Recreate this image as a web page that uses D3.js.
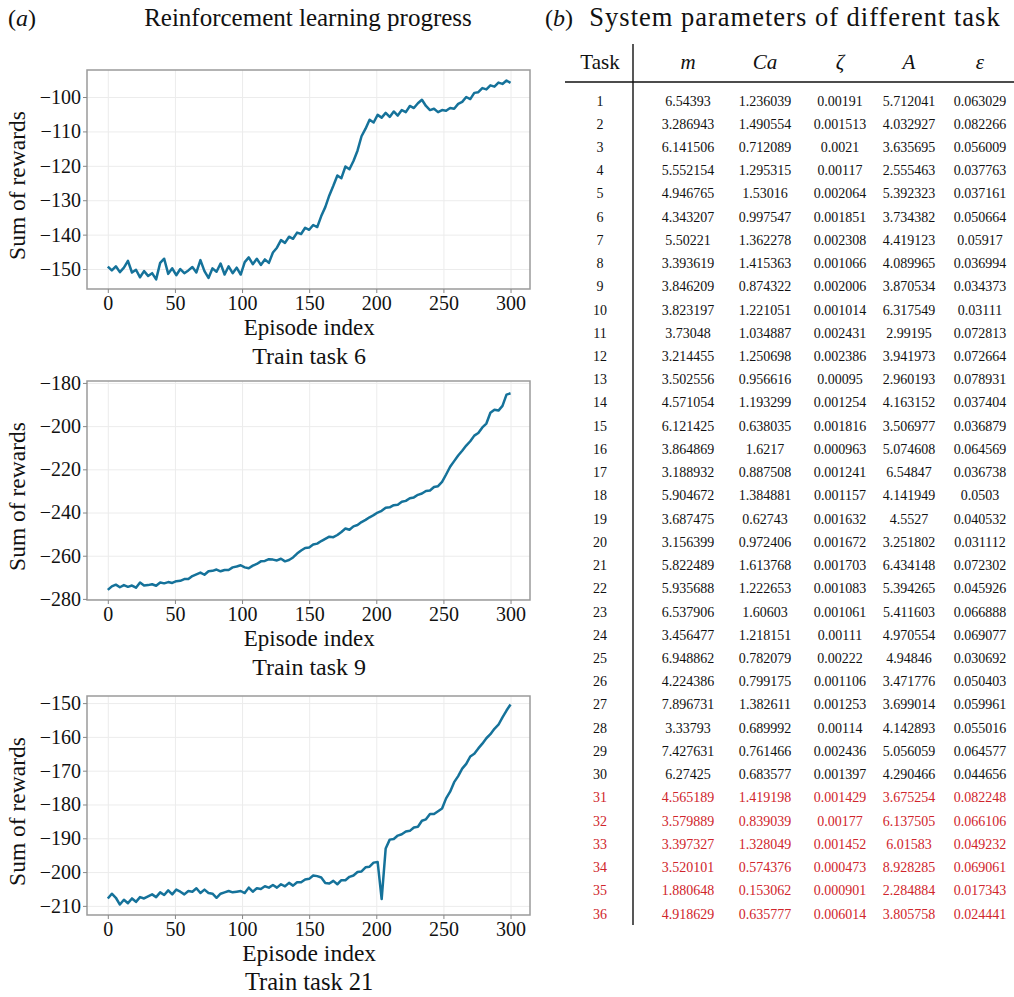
<!DOCTYPE html>
<html>
<head>
<meta charset="utf-8">
<script src="https://cdn.jsdelivr.net/npm/d3@7"></script>
<style>
  body { margin: 0; background: #fff; }
  svg text { font-family: "Liberation Serif", "Times New Roman", serif; fill: #111; }
  .grid line { stroke: #ececec; stroke-width: 1; }
  .grid path { display: none; }
  .axis path { display: none; }
  .axis line { stroke: #888; }
</style>
</head>
<body>
<div id="chart"></div>
<script>
// Episode index (sampled every 3 episodes)
var episodes = d3.range(0, 301, 3);
var xTicks = [0, 50, 100, 150, 200, 250, 300];

// Sum of rewards, train task 6
var rewardsTask6 = [
  -149.3, -150.4, -149.2, -150.9, -149.6, -147.6, -151.0, -150.2, -152.4, -150.6,
  -152.0, -151.2, -153.0, -148.2, -147.0, -151.4, -149.8, -151.8, -150.0, -151.2,
  -150.4, -149.4, -151.0, -147.4, -150.6, -152.6, -149.8, -150.8, -148.4, -151.6,
  -149.2, -151.2, -149.6, -151.6, -148.0, -146.6, -148.6, -147.0, -148.8, -147.2,
  -148.2, -145.2, -143.8, -141.6, -142.4, -140.6, -141.2, -139.4, -139.8, -138.0,
  -138.6, -137.2, -137.8, -134.6, -132.0, -128.6, -125.8, -122.8, -123.6, -120.2,
  -121.0, -118.6, -115.6, -111.4, -109.2, -106.6, -107.4, -105.2, -106.0, -104.6,
  -105.8, -104.2, -105.4, -103.8, -104.4, -102.6, -103.2, -101.8, -100.8, -102.6,
  -103.8, -103.4, -104.4, -103.8, -104.0, -103.2, -103.4, -102.0, -101.4, -100.0,
  -100.6, -98.8, -98.6, -97.4, -97.8, -96.6, -97.0, -95.8, -96.2, -95.2, -95.9
];
var yTicks6 = [-100, -110, -120, -130, -140, -150];

// Sum of rewards, train task 9
var rewardsTask9 = [
  -275.8, -274.2, -273.4, -274.6, -273.6, -274.4, -273.8, -274.8, -272.4, -273.8,
  -273.6, -273.2, -273.9, -272.4, -272.8, -272.2, -272.6, -271.8, -271.6, -270.8,
  -270.8, -269.4, -268.6, -267.8, -268.8, -267.2, -267.0, -266.4, -267.2, -266.6,
  -266.6, -265.4, -265.0, -264.4, -265.4, -265.8, -264.6, -263.8, -262.6, -262.4,
  -261.6, -261.8, -262.2, -261.4, -262.6, -262.0, -260.8, -259.0, -257.6, -256.4,
  -256.2, -254.8, -254.4, -253.2, -252.2, -251.2, -251.4, -250.4, -249.0, -247.4,
  -248.0, -246.4, -245.8, -244.4, -243.4, -242.2, -241.2, -240.0, -239.2, -237.8,
  -237.6, -236.6, -236.4, -235.0, -234.6, -233.4, -233.0, -231.8, -231.2, -230.0,
  -229.8, -228.2, -227.8, -225.8, -222.4, -218.8, -216.2, -213.6, -211.4, -209.0,
  -207.0, -204.4, -203.2, -200.6, -198.8, -193.8, -192.4, -192.8, -190.6, -185.4, -184.8
];
var yTicks9 = [-180, -200, -220, -240, -260, -280];

// Sum of rewards, train task 21
var rewardsTask21 = [
  -207.8, -206.4, -207.6, -209.6, -208.2, -209.2, -207.8, -208.8, -207.4, -207.8,
  -207.2, -206.6, -207.4, -206.0, -206.8, -205.4, -206.6, -205.2, -205.8, -206.6,
  -205.6, -205.8, -204.8, -206.2, -205.2, -206.2, -206.4, -207.6, -206.4, -206.0,
  -205.6, -206.0, -205.8, -205.6, -206.2, -204.6, -205.8, -204.8, -205.0, -204.2,
  -204.6, -203.8, -204.6, -203.6, -204.2, -203.2, -204.0, -203.0, -203.0, -202.2,
  -202.0, -201.0, -201.2, -201.6, -203.2, -203.4, -202.6, -203.6, -202.4, -202.4,
  -201.4, -201.0, -200.0, -199.8, -198.6, -198.4, -197.2, -197.0, -208.0, -193.0,
  -190.4, -190.2, -189.2, -188.8, -188.0, -187.8, -186.8, -186.6, -184.8, -184.4,
  -182.8, -182.8, -182.0, -181.2, -178.2, -176.2, -173.4, -171.6, -169.4, -168.0,
  -165.8, -165.0, -163.4, -162.0, -160.4, -159.2, -157.6, -156.4, -154.2, -152.2, -150.4
];
var yTicks21 = [-150, -160, -170, -180, -190, -200, -210];

// Table (b): system parameters of different task
var taskIds = d3.range(1, 37);
var massVals = ["6.54393", "3.286943", "6.141506", "5.552154", "4.946765", "4.343207", "5.50221", "3.393619", "3.846209", "3.823197",
  "3.73048", "3.214455", "3.502556", "4.571054", "6.121425", "3.864869", "3.188932", "5.904672", "3.687475", "3.156399",
  "5.822489", "5.935688", "6.537906", "3.456477", "6.948862", "4.224386", "7.896731", "3.33793", "7.427631", "6.27425",
  "4.565189", "3.579889", "3.397327", "3.520101", "1.880648", "4.918629"];
var caVals = ["1.236039", "1.490554", "0.712089", "1.295315", "1.53016", "0.997547", "1.362278", "1.415363", "0.874322", "1.221051",
  "1.034887", "1.250698", "0.956616", "1.193299", "0.638035", "1.6217", "0.887508", "1.384881", "0.62743", "0.972406",
  "1.613768", "1.222653", "1.60603", "1.218151", "0.782079", "0.799175", "1.382611", "0.689992", "0.761466", "0.683577",
  "1.419198", "0.839039", "1.328049", "0.574376", "0.153062", "0.635777"];
var zetaVals = ["0.00191", "0.001513", "0.0021", "0.00117", "0.002064", "0.001851", "0.002308", "0.001066", "0.002006", "0.001014",
  "0.002431", "0.002386", "0.00095", "0.001254", "0.001816", "0.000963", "0.001241", "0.001157", "0.001632", "0.001672",
  "0.001703", "0.001083", "0.001061", "0.00111", "0.00222", "0.001106", "0.001253", "0.00114", "0.002436", "0.001397",
  "0.001429", "0.00177", "0.001452", "0.000473", "0.000901", "0.006014"];
var ampVals = ["5.712041", "4.032927", "3.635695", "2.555463", "5.392323", "3.734382", "4.419123", "4.089965", "3.870534", "6.317549",
  "2.99195", "3.941973", "2.960193", "4.163152", "3.506977", "5.074608", "6.54847", "4.141949", "4.5527", "3.251802",
  "6.434148", "5.394265", "5.411603", "4.970554", "4.94846", "3.471776", "3.699014", "4.142893", "5.056059", "4.290466",
  "3.675254", "6.137505", "6.01583", "8.928285", "2.284884", "3.805758"];
var epsVals = ["0.063029", "0.082266", "0.056009", "0.037763", "0.037161", "0.050664", "0.05917", "0.036994", "0.034373", "0.03111",
  "0.072813", "0.072664", "0.078931", "0.037404", "0.036879", "0.064569", "0.036738", "0.0503", "0.040532", "0.031112",
  "0.072302", "0.045926", "0.066888", "0.069077", "0.030692", "0.050403", "0.059961", "0.055016", "0.064577", "0.044656",
  "0.082248", "0.066106", "0.049232", "0.069061", "0.017343", "0.024441"];
var firstTestTask = 31;

var serif = "'Liberation Serif', 'Times New Roman', serif";
var svgWidth = 1014;
var svgHeight = 997;

var svg = d3.select("#chart")
  .append("svg")
  .attr("width", svgWidth)
  .attr("height", svgHeight)
  .attr("font-family", serif);

// Panel titles
var titleA = svg.append("text").attr("x", 8).attr("y", 26).attr("font-size", "24px");
titleA.append("tspan").text("(");
titleA.append("tspan").attr("font-style", "italic").text("a");
titleA.append("tspan").text(")");

svg.append("text")
  .attr("x", 308).attr("y", 26)
  .attr("text-anchor", "middle")
  .attr("font-size", "25px")
  .text("Reinforcement learning progress");

var titleB = svg.append("text").attr("x", 545).attr("y", 26).attr("font-size", "24px");
titleB.append("tspan").text("(");
titleB.append("tspan").attr("font-style", "italic").text("b");
titleB.append("tspan").text(")");

svg.append("text")
  .attr("x", 795).attr("y", 26)
  .attr("text-anchor", "middle")
  .attr("font-size", "26.5px")
  .attr("letter-spacing", "1px")
  .text("System parameters of different task");

// ---- Left: three reward curves ----
var plotLeft = 87;
var plotRight = 530;
var plotHeight = 219;

var panels = [
  { values: rewardsTask6, ticks: yTicks6, domain: [-155.8, -92.15], top: 70, name: "Train task 6", capSize: 23, titleSize: 24 },
  { values: rewardsTask9, ticks: yTicks9, domain: [-280.5, -179.1], top: 381, name: "Train task 9", capSize: 23, titleSize: 24 },
  { values: rewardsTask21, ticks: yTicks21, domain: [-212.7, -147.9], top: 696, name: "Train task 21", capSize: 23.5, titleSize: 24.5 }
];

var xScale = d3.scaleLinear()
  .domain([-15.5, 314.5])
  .range([plotLeft, plotRight]);

panels.forEach(function(p) {
  var bottom = p.top + plotHeight;
  var yScale = d3.scaleLinear()
    .domain(p.domain)
    .range([bottom, p.top]);

  var g = svg.append("g");

  // grid
  g.append("g")
    .attr("class", "grid")
    .attr("transform", `translate(0, ${bottom})`)
    .call(d3.axisBottom(xScale).tickValues(xTicks).tickSize(-plotHeight).tickFormat(""));
  g.append("g")
    .attr("class", "grid")
    .attr("transform", `translate(${plotLeft}, 0)`)
    .call(d3.axisLeft(yScale).tickValues(p.ticks).tickSize(-(plotRight - plotLeft)).tickFormat(""));

  // curve
  var line = d3.line()
    .x((d, i) => xScale(episodes[i]))
    .y(d => yScale(d));

  g.append("path")
    .datum(p.values)
    .attr("fill", "none")
    .attr("stroke", "#15729a")
    .attr("stroke-width", 2.5)
    .attr("stroke-linejoin", "round")
    .attr("d", line);

  // frame
  g.append("rect")
    .attr("x", plotLeft).attr("y", p.top)
    .attr("width", plotRight - plotLeft).attr("height", plotHeight)
    .attr("fill", "none")
    .attr("stroke", "#9a9a9a")
    .attr("stroke-width", 1.5);

  // axes
  var xAxis = g.append("g")
    .attr("class", "axis")
    .attr("transform", `translate(0, ${bottom})`)
    .call(d3.axisBottom(xScale).tickValues(xTicks).tickSize(4).tickPadding(3))
    .attr("font-family", serif);
  xAxis.selectAll("text")
    .style("font-family", serif)
    .attr("font-size", "20px").attr("fill", "#111");

  var yAxis = g.append("g")
    .attr("class", "axis")
    .attr("transform", `translate(${plotLeft}, 0)`)
    .call(d3.axisLeft(yScale).tickValues(p.ticks).tickSize(4).tickPadding(2))
    .attr("font-family", serif);
  yAxis.selectAll("text")
    .style("font-family", serif)
    .attr("font-size", "20px").attr("fill", "#111");

  // labels
  g.append("text")
    .attr("transform", `translate(25, ${p.top + plotHeight / 2 + 6}) rotate(-90)`)
    .attr("text-anchor", "middle")
    .attr("font-size", "23.5px")
    .text("Sum of rewards");

  g.append("text")
    .attr("x", xScale(150)).attr("y", bottom + 46)
    .attr("text-anchor", "middle")
    .attr("font-size", p.capSize + "px")
    .text("Episode index");

  g.append("text")
    .attr("x", xScale(150)).attr("y", bottom + 75)
    .attr("text-anchor", "middle")
    .attr("font-size", p.titleSize + "px")
    .text(p.name);
});

// ---- Right: parameter table ----
var colX = [600, 688, 765, 840, 909, 980];
var headers = [
  { text: "Task", italic: false },
  { text: "m", italic: true },
  { text: "Ca", italic: true },
  { text: "ζ", italic: true },
  { text: "A", italic: true },
  { text: "ε", italic: true }
];

var rowScale = d3.scaleLinear()
  .domain([1, 36])
  .range([101, 914]);

var table = svg.append("g");

table.selectAll(".head")
  .data(headers)
  .enter()
  .append("text")
  .attr("class", "head")
  .attr("x", (d, i) => colX[i])
  .attr("y", 69)
  .attr("text-anchor", "middle")
  .attr("font-size", "21px")
  .attr("font-style", d => d.italic ? "italic" : "normal")
  .text(d => d.text);

table.append("line")
  .attr("x1", 565).attr("x2", 1014)
  .attr("y1", 82).attr("y2", 82)
  .attr("stroke", "#111").attr("stroke-width", 1.4);

table.append("line")
  .attr("x1", 633).attr("x2", 633)
  .attr("y1", 44).attr("y2", 925)
  .attr("stroke", "#111").attr("stroke-width", 1.4);

var columns = [taskIds, massVals, caVals, zetaVals, ampVals, epsVals];

taskIds.forEach(function(task, r) {
  var row = table.append("g");
  columns.forEach(function(col, c) {
    row.append("text")
      .attr("x", colX[c])
      .attr("y", rowScale(task) + 4.5)
      .attr("text-anchor", "middle")
      .attr("font-size", "14px")
      .style("fill", task >= firstTestTask ? "#d0252b" : "#111")
      .text(col[r]);
  });
});
</script>
</body>
</html>
